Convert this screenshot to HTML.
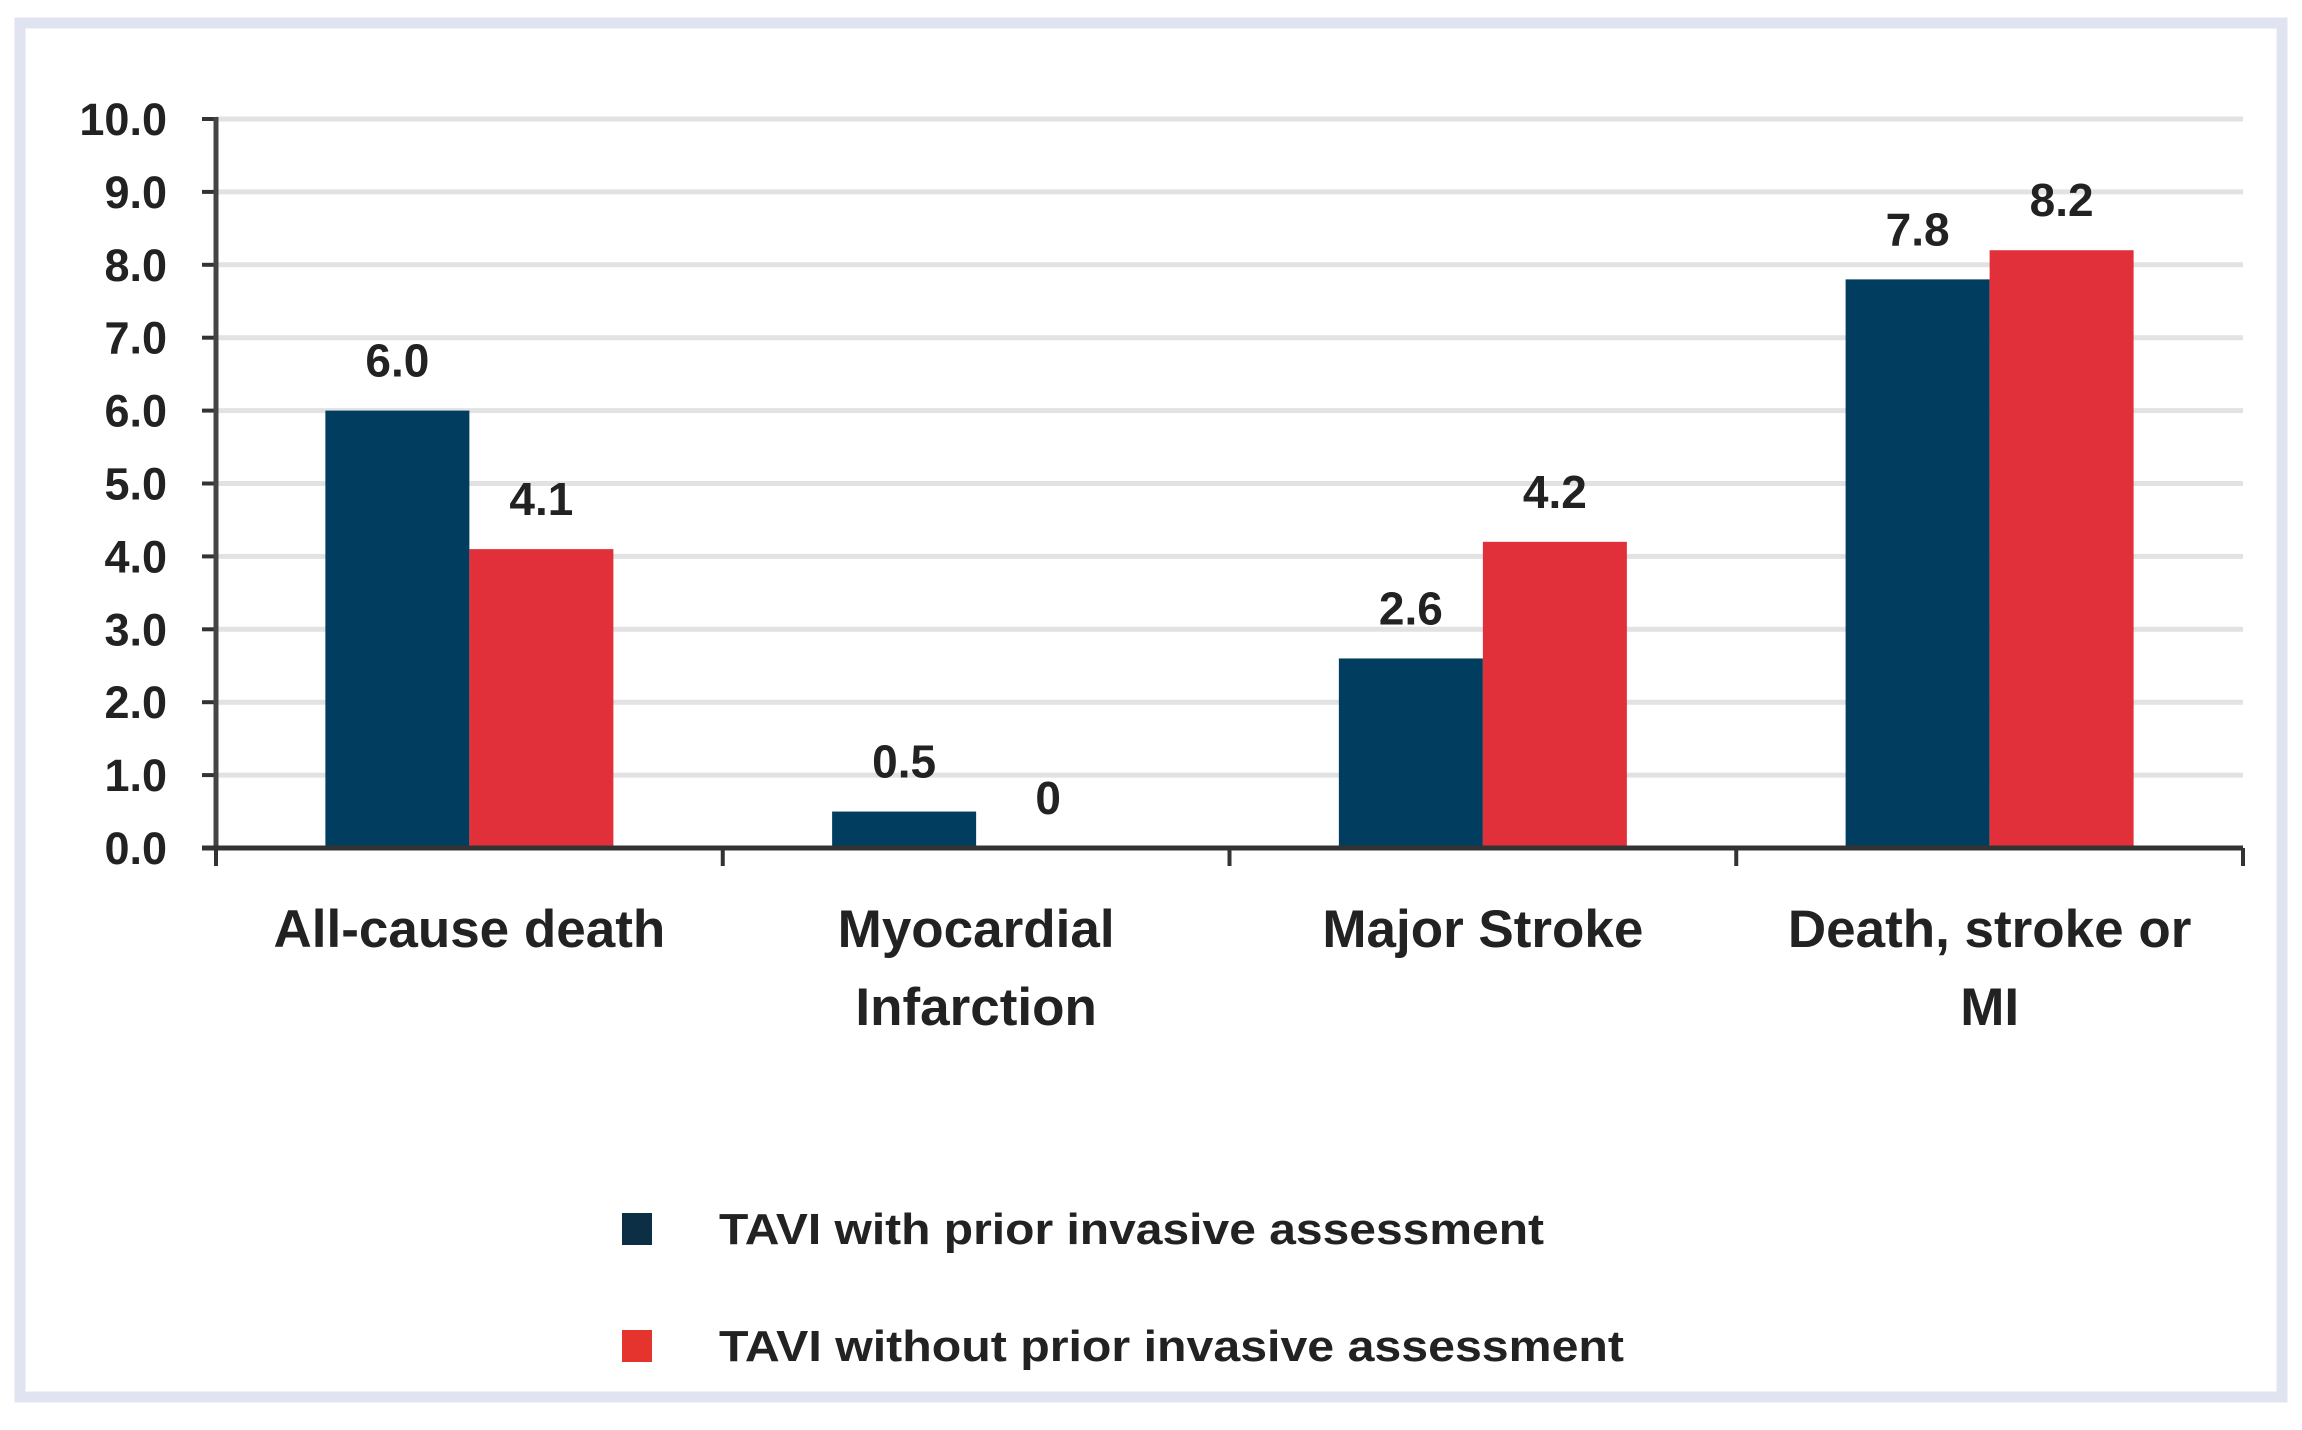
<!DOCTYPE html>
<html><head><meta charset="utf-8"><style>
html,body{margin:0;padding:0;background:#fff;}
svg{display:block;font-family:"Liberation Sans",sans-serif;font-weight:bold;}
</style></head><body>
<svg id="chart" width="2302" height="1430" viewBox="0 0 2302 1430" xmlns="http://www.w3.org/2000/svg">
<rect x="20" y="23" width="2262" height="1374" fill="#fff" stroke="#e0e4f0" stroke-width="11"/>
<g id="grid"></g>
<g id="bars"></g>
<g id="axes"></g>
<g id="labels"></g>
<g>
<rect x="622" y="1213" width="30" height="32" fill="#0d2f45"/>
<text x="719" y="1244" font-size="44" fill="#222" textLength="825" lengthAdjust="spacingAndGlyphs">TAVI with prior invasive assessment</text>
<rect x="622" y="1330" width="30" height="32" fill="#e5332e"/>
<text x="719" y="1361" font-size="44" fill="#222" textLength="905" lengthAdjust="spacingAndGlyphs">TAVI without prior invasive assessment</text>
</g>
</svg>
<script>
const categories = ["All-cause death", "Myocardial Infarction", "Major Stroke", "Death, stroke or MI"];
const withPrior = [6.0, 0.5, 2.6, 7.8];
const withoutPrior = [4.1, 0, 4.2, 8.2];
const valueLabelsWith = ["6.0", "0.5", "2.6", "7.8"];
const valueLabelsWithout = ["4.1", "0", "4.2", "8.2"];
const yTicks = [0, 1, 2, 3, 4, 5, 6, 7, 8, 9, 10];
const yTickLabels = ["0.0","1.0","2.0","3.0","4.0","5.0","6.0","7.0","8.0","9.0","10.0"];
const catLines = [["All-cause death"], ["Myocardial", "Infarction"], ["Major Stroke"], ["Death, stroke or", "MI"]];

const NS = "http://www.w3.org/2000/svg";
const X0 = 216, X1 = 2243, Y0 = 848, Y10 = 119;
const y = v => Y0 - (Y0 - Y10) * v / 10;
const catW = (X1 - X0) / categories.length;
const catStart = i => X0 + catW * i;
const barW = 144;
function mk(tag, attrs, parent) {
  const e = document.createElementNS(NS, tag);
  for (const k in attrs) e.setAttribute(k, attrs[k]);
  parent.appendChild(e);
  return e;
}
const grid = document.getElementById('grid'), bars = document.getElementById('bars'),
      axes = document.getElementById('axes'), labels = document.getElementById('labels');

yTicks.forEach((t, i) => {
  if (t > 0) {
    const g = mk('line', {x1: X0, x2: X1, y1: y(t), y2: y(t), stroke: '#e2e2e2', 'stroke-width': 5}, grid);
    
    
  }
  const tk = mk('line', {x1: X0 - 14, x2: X0, y1: y(t), y2: y(t), stroke: '#333', 'stroke-width': 4}, axes);
  
  
  const tl = mk('text', {x: 167, y: y(t) + 16, 'font-size': 45, fill: '#222', 'text-anchor': 'end'}, labels);
  
  
  tl.textContent = yTickLabels[i];
});

categories.forEach((c, i) => {
  const cx = catStart(i) + catW / 2;
  const b1 = mk('rect', {x: cx - barW, y: y(withPrior[i]), width: barW, height: Y0 - y(withPrior[i]), fill: '#003d5e'}, bars);
  
  
  const b2 = mk('rect', {x: cx, y: y(withoutPrior[i]), width: barW, height: Y0 - y(withoutPrior[i]), fill: '#e2303a'}, bars);
  
  
  const v1 = mk('text', {x: cx - barW / 2, y: y(withPrior[i]) - 34, 'font-size': 46, fill: '#222', 'text-anchor': 'middle'}, labels);
  
  
  v1.textContent = valueLabelsWith[i];
  const v2 = mk('text', {x: cx + barW / 2, y: y(withoutPrior[i]) - 34, 'font-size': 46, fill: '#222', 'text-anchor': 'middle'}, labels);
  
  
  v2.textContent = valueLabelsWithout[i];
  catLines[i].forEach((ln, j) => {
    const t = mk('text', {x: cx, y: 947 + j * 78, 'font-size': 53, fill: '#222', 'text-anchor': 'middle'}, labels);
    
    
    t.textContent = ln;
  });
});
for (let i = 0; i <= categories.length; i++) {
  const xt = mk('line', {x1: catStart(i), x2: catStart(i), y1: Y0, y2: Y0 + 18, stroke: '#333', 'stroke-width': 4}, axes);
  
  
}
const ya = mk('line', {x1: X0, x2: X0, y1: Y10 - 2, y2: Y0 + 2, stroke: '#444', 'stroke-width': 5}, axes);


const xa = mk('line', {x1: X0 - 14, x2: X1, y1: Y0, y2: Y0, stroke: '#333', 'stroke-width': 5}, axes);


</script>
</body></html>
